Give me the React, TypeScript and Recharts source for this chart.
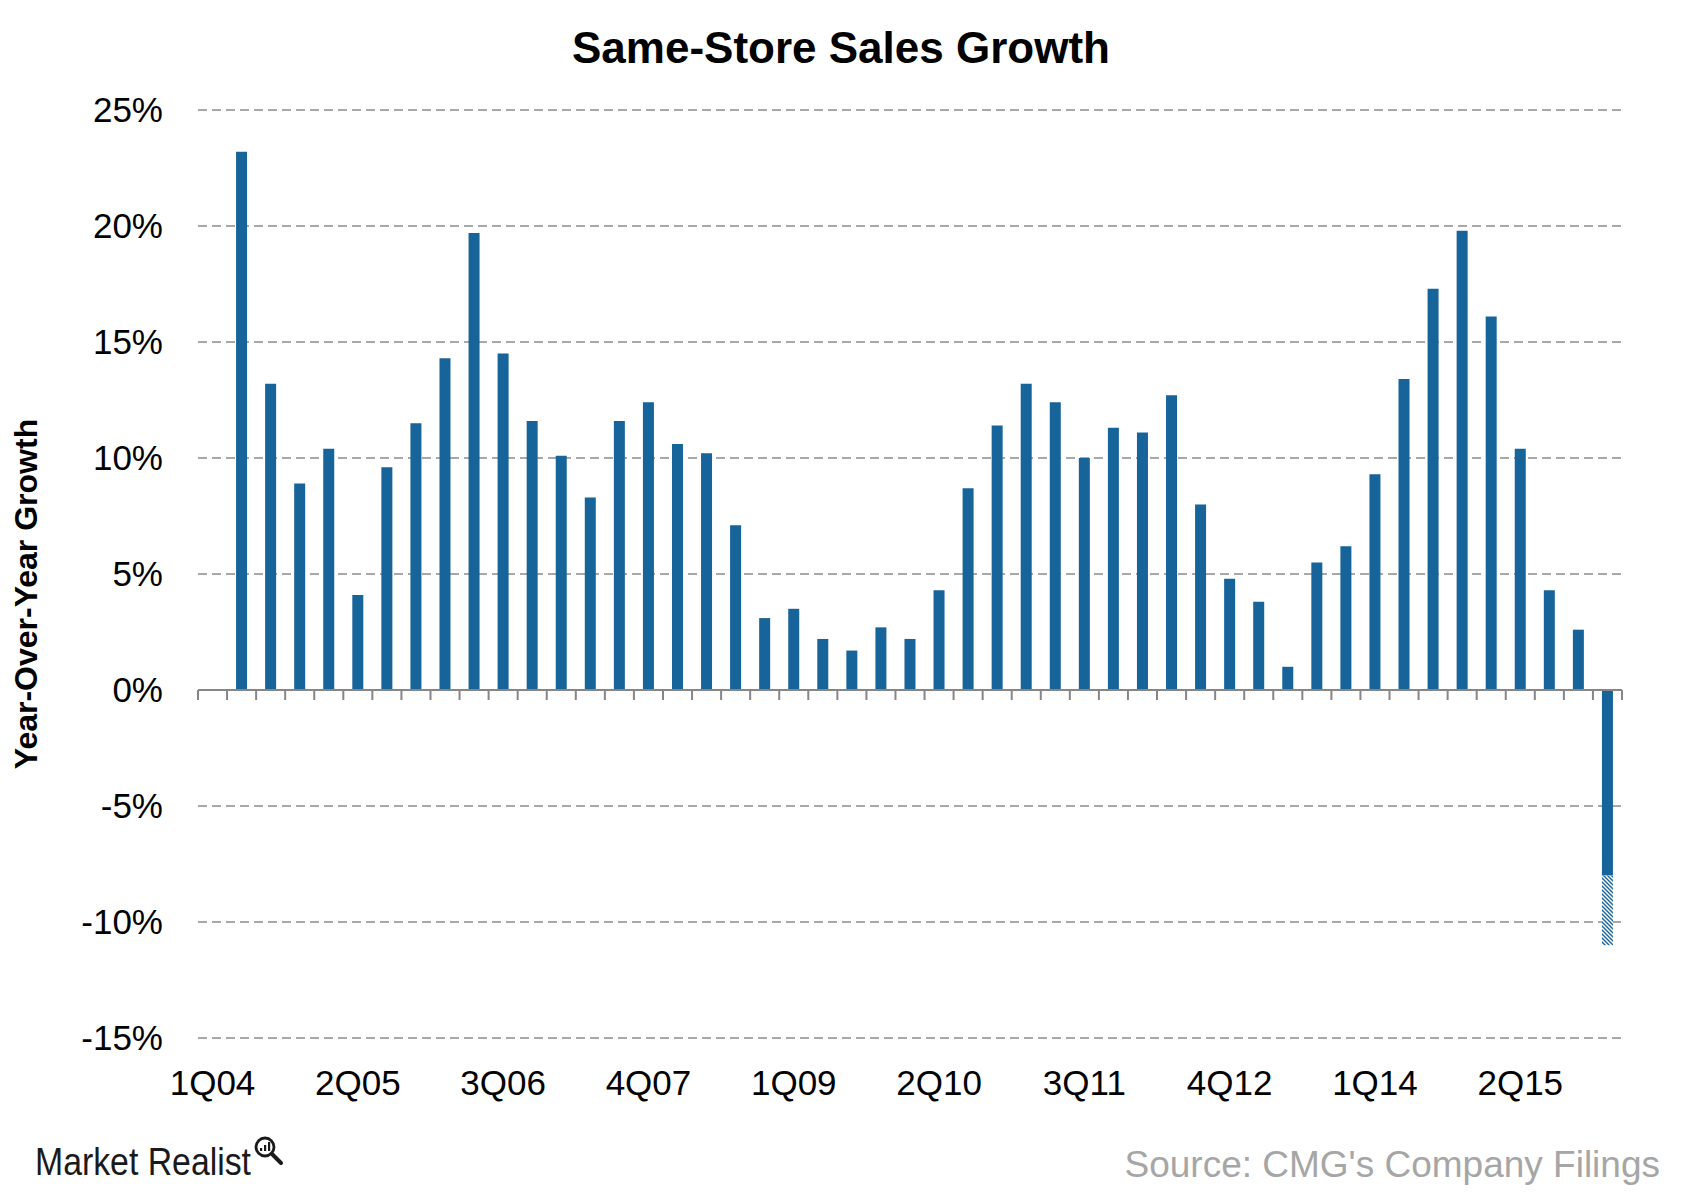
import React from 'react';
import { BarChart, Bar, XAxis, YAxis, CartesianGrid, ReferenceLine } from 'recharts';

const quarters: string[] = [
  '1Q04', '2Q04', '3Q04', '4Q04',
  '1Q05', '2Q05', '3Q05', '4Q05',
  '1Q06', '2Q06', '3Q06', '4Q06',
  '1Q07', '2Q07', '3Q07', '4Q07',
  '1Q08', '2Q08', '3Q08', '4Q08',
  '1Q09', '2Q09', '3Q09', '4Q09',
  '1Q10', '2Q10', '3Q10', '4Q10',
  '1Q11', '2Q11', '3Q11', '4Q11',
  '1Q12', '2Q12', '3Q12', '4Q12',
  '1Q13', '2Q13', '3Q13', '4Q13',
  '1Q14', '2Q14', '3Q14', '4Q14',
  '1Q15', '2Q15', '3Q15', '4Q15',
  '1Q16',
];

// Year-over-year same-store sales growth (%), solid part of each bar
const solidGrowth: (number | null)[] = [
  null, 23.2, 13.2, 8.9,
  10.4, 4.1, 9.6, 11.5,
  14.3, 19.7, 14.5, 11.6,
  10.1, 8.3, 11.6, 12.4,
  10.6, 10.2, 7.1, 3.1,
  3.5, 2.2, 1.7, 2.7,
  2.2, 4.3, 8.7, 11.4,
  13.2, 12.4, 10.0, 11.3,
  11.1, 12.7, 8.0, 4.8,
  3.8, 1.0, 5.5, 6.2,
  9.3, 13.4, 17.3, 19.8,
  16.1, 10.4, 4.3, 2.6,
  -8.0,
];

// Hatched extension (guidance range) on the last bar
const guidanceQuarter = '1Q16';
const guidanceExtension = -3.0;

const yTicks: number[] = [-15, -10, -5, 0, 5, 10, 15, 20, 25];

const data = quarters.map((q, i) => ({
  quarter: q,
  solid: solidGrowth[i],
  hatch: q === guidanceQuarter ? guidanceExtension : null,
}));

const FONT = '"Liberation Sans", Arial, Helvetica, sans-serif';
const BLUE = '#17649a';
const GRID = '#8c8c8c';
const AXIS = '#868686';
const TICK_DEPTH = -0.43;

export default function App() {
  const lastQuarter = quarters[quarters.length - 1];
  return (
    <div style={{ position: 'absolute', left: 0, top: 0, width: 1682, height: 1201, background: '#fff' }}>
      <BarChart
        width={1682}
        height={1201}
        data={data}
        margin={{ top: 110, right: 60, bottom: 103, left: 0 }}
        barSize={11}
      >
        <defs>
          <pattern id="hatch" patternUnits="userSpaceOnUse" width="4" height="4">
            <rect width="4" height="4" fill="#ffffff" />
            <path d="M-1,-1 L5,5 M-1,3 L1,5 M3,-1 L5,1" stroke={BLUE} strokeWidth="1.4" />
          </pattern>
        </defs>
        <CartesianGrid vertical={false} stroke={GRID} strokeDasharray="9 5" strokeWidth={1.5} />
        <XAxis
          dataKey="quarter"
          interval={4}
          axisLine={false}
          tickLine={false}
          tickSize={0}
          tickMargin={32}
          height={60}
          tick={{ fill: '#000', fontSize: 35, fontFamily: FONT }}
        />
        <YAxis
          width={198}
          domain={[-15, 25]}
          ticks={yTicks}
          interval={0}
          axisLine={false}
          tickLine={false}
          tickSize={0}
          tickMargin={35}
          tickFormatter={(v: number) => `${v}%`}
          tick={{ fill: '#000', fontSize: 35, fontFamily: FONT }}
        />
        <ReferenceLine y={0} stroke={AXIS} strokeWidth={2} />
        {quarters.map((q) => (
          <ReferenceLine
            key={`t-${q}`}
            segment={[{ x: q, y: 0 }, { x: q, y: TICK_DEPTH }]}
            position="start"
            stroke={AXIS}
            strokeWidth={2}
            ifOverflow="visible"
          />
        ))}
        <ReferenceLine
          key="t-end"
          segment={[{ x: lastQuarter, y: 0 }, { x: lastQuarter, y: TICK_DEPTH }]}
          position="end"
          stroke={AXIS}
          strokeWidth={2}
          ifOverflow="visible"
        />
        <Bar dataKey="solid" stackId="s" fill={BLUE} isAnimationActive={false} />
        <Bar dataKey="hatch" stackId="s" fill="url(#hatch)" isAnimationActive={false} />
      </BarChart>
      <svg
        width={1682}
        height={1201}
        style={{ position: 'absolute', left: 0, top: 0, pointerEvents: 'none' }}
      >
        <text x={841} y={63} textAnchor="middle" fontFamily={FONT} fontWeight="bold" fontSize={44} fill="#000">
          Same-Store Sales Growth
        </text>
        <text
          x={37}
          y={594}
          transform="rotate(-90, 37, 594)"
          textAnchor="middle"
          fontFamily={FONT}
          fontWeight="bold"
          fontSize={32}
          fill="#000"
        >
          Year-Over-Year Growth
        </text>
        <text x={1660} y={1177} textAnchor="end" fontFamily={FONT} fontSize={37} fill="#a6a6a6">
          Source: CMG's Company Filings
        </text>
        <text
          x={35}
          y={1175}
          fontFamily={FONT}
          fontSize={38}
          fill="#1a1a1a"
          textLength={216}
          lengthAdjust="spacingAndGlyphs"
        >
          Market Realist
        </text>
        <g stroke="#1a1a1a" fill="none">
          <circle cx={265} cy={1147} r={9} strokeWidth={2.8} />
          <line x1={272} y1={1154} x2={281} y2={1163} strokeWidth={4} strokeLinecap="round" />
        </g>
        <g fill="#1a1a1a">
          <rect x={260} y={1148} width={2.2} height={3} />
          <rect x={264} y={1145} width={2.2} height={6} />
          <rect x={268} y={1142} width={2.2} height={9} />
        </g>
      </svg>
    </div>
  );
}
